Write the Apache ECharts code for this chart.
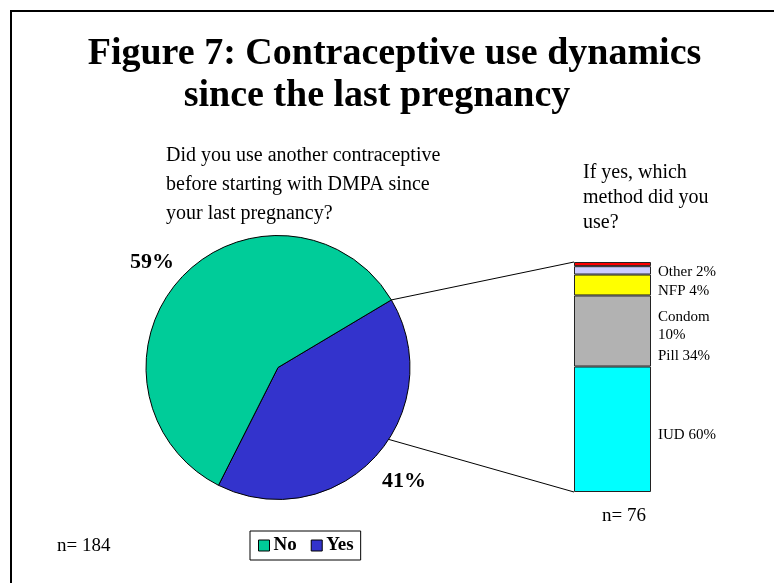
<!DOCTYPE html>
<html>
<head>
<meta charset="utf-8">
<title>Figure 7: Contraceptive use dynamics since the last pregnancy</title>
<script src="https://cdn.jsdelivr.net/npm/echarts@6/dist/echarts.min.js"></script>
<style>
  html, body { margin: 0; padding: 0; background: #fff; }
  #chart { width: 774px; height: 583px; }
</style>
</head>
<body>
<div id="chart"></div>
<script>
// Q1: did the woman use another method before DMPA?
const answerNames = ['Yes', 'No'];
const answerShares = [41, 59];
const answerColors = ['#3333CC', '#00CC99'];
const legendOrder = ['No', 'Yes'];
const answerSample = 184;

// Q2: which method, among those answering yes
const methodNames = ['IUD', 'Pill', 'Condom', 'NFP', 'Other'];
const methodShares = [60, 34, 10, 4, 2];
const methodColors = ['#00FFFF', '#B2B2B2', '#FFFF00', '#CCCCFF', '#FF0000'];
const methodSample = 76;

const SERIF = "'Liberation Serif', 'Times New Roman', serif";

// layout of the pie and the breakdown column
const PIE_CENTER = [278, 367.5];
const PIE_RADIUS = 132;
const PIE_START = 30.8;          // degrees; the "Yes" slice begins here
const PIE_LABEL_RADIUS = 167;    // distance of the percentage labels from the centre
const PIE_LABEL_TURN = 2;        // small counter-clockwise turn of the labels
const PIE_LABEL_DROP = 4;        // vertical nudge so the digits sit centred
const LOWER_LINK_ANGLE = -33;    // where the lower connector meets the pie
const COL = { left: 574, top: 262, width: 77, height: 230 };

// label nudges for the stacked column (keep labels readable)
const methodLabelDy = [6, 25, 41, 21, 8];

const methodTotal = methodShares.reduce((a, b) => a + b, 0);
const answerTotal = answerShares.reduce((a, b) => a + b, 0);

function ptOnPie(deg, r) {
  const a = deg * Math.PI / 180;
  return [PIE_CENTER[0] + r * Math.cos(a), PIE_CENTER[1] - r * Math.sin(a)];
}

// middle angle of each slice, going clockwise from PIE_START
function sliceMidAngle(idx) {
  let before = 0;
  for (let i = 0; i < idx; i++) before += answerShares[i];
  return PIE_START - 360 * (before + answerShares[idx] / 2) / answerTotal;
}

const chart = echarts.init(document.getElementById('chart'), null, { renderer: 'canvas' });

const pieSeries = {
  type: 'pie',
  center: PIE_CENTER,
  radius: PIE_RADIUS,
  startAngle: PIE_START,
  clockwise: true,
  animation: false,
  silent: true,
  avoidLabelOverlap: false,
  itemStyle: { borderColor: '#000', borderWidth: 1 },
  label: {
    show: true,
    position: 'outside',
    formatter: p => p.value + '%',
    fontFamily: SERIF,
    fontWeight: 'bold',
    fontSize: 22,
    color: '#000'
  },
  labelLine: { show: false },
  labelLayout: p => {
    const pt = ptOnPie(sliceMidAngle(p.dataIndex) + PIE_LABEL_TURN, PIE_LABEL_RADIUS);
    return { x: pt[0], y: pt[1] + PIE_LABEL_DROP, align: 'center', verticalAlign: 'middle' };
  },
  data: answerNames.map((n, i) => ({ name: n, value: answerShares[i], itemStyle: { color: answerColors[i] } }))
};

const barSeries = methodNames.map((n, i) => ({
  type: 'bar',
  name: n,
  stack: 'methods',
  barWidth: '100%',
  animation: false,
  silent: true,
  itemStyle: { color: methodColors[i], borderColor: '#222', borderWidth: 1 },
  label: {
    show: true,
    position: 'right',
    distance: 7,
    offset: [0, methodLabelDy[i]],
    formatter: p => p.seriesName + (p.seriesName === 'Condom' ? '\n' : ' ') + p.value + '%',
    fontFamily: SERIF,
    fontSize: 15,
    lineHeight: 18,
    color: '#000'
  },
  data: [methodShares[i]]
}));

const option = {
  backgroundColor: '#fff',
  animation: false,
  legend: {
    data: legendOrder,
    left: 250,
    top: 531,
    orient: 'horizontal',
    padding: [5, 7, 5, 8],
    borderColor: '#000',
    borderWidth: 1,
    itemWidth: 11,
    itemHeight: 11,
    itemGap: 14,
    icon: 'rect',
    selectedMode: false,
    itemStyle: { borderColor: '#000', borderWidth: 1 },
    textStyle: { fontFamily: SERIF, fontWeight: 'bold', fontSize: 19, color: '#000', padding: [0, 0, 0, -1] }
  },
  grid: {
    left: COL.left,
    top: COL.top,
    width: COL.width,
    height: COL.height,
    containLabel: false
  },
  xAxis: { type: 'category', data: ['method'], show: false },
  yAxis: { type: 'value', min: 0, max: methodTotal, show: false },
  series: [pieSeries].concat(barSeries)
};

chart.setOption(option);

// connectors from the "Yes" slice to the breakdown column, plus texts and frame
const topLink = ptOnPie(PIE_START, PIE_RADIUS);
const lowLink = ptOnPie(LOWER_LINK_ANGLE, PIE_RADIUS);
const colTop = chart.convertToPixel({ gridIndex: 0 }, [0, methodTotal]);
const colBottom = chart.convertToPixel({ gridIndex: 0 }, [0, 0]);
const colLeft = COL.left;

chart.setOption({
  graphic: [
    { type: 'rect', silent: true, z: 100,
      shape: { x: 11, y: 11, width: 1000, height: 1000 },
      style: { fill: 'none', stroke: '#000', lineWidth: 2 } },
    { type: 'line', silent: true, z: 1,
      shape: { x1: topLink[0], y1: topLink[1], x2: colLeft, y2: colTop[1] },
      style: { stroke: '#000', lineWidth: 1 } },
    { type: 'line', silent: true, z: 1,
      shape: { x1: lowLink[0], y1: lowLink[1], x2: colLeft, y2: colBottom[1] },
      style: { stroke: '#000', lineWidth: 1 } },
    { type: 'text', silent: true,
      style: { text: 'Figure 7: Contraceptive use dynamics', x: 394.5, y: 54,
        textAlign: 'center', textVerticalAlign: 'middle',
        font: 'bold 38px ' + SERIF, fill: '#000' } },
    { type: 'text', silent: true,
      style: { text: 'since the last pregnancy', x: 377, y: 96,
        textAlign: 'center', textVerticalAlign: 'middle',
        font: 'bold 38px ' + SERIF, fill: '#000' } },
    { type: 'text', silent: true,
      style: { text: 'Did you use another contraceptive\nbefore starting with DMPA since\nyour last pregnancy?',
        x: 166, y: 141, textAlign: 'left', textVerticalAlign: 'top',
        font: '20px ' + SERIF, lineHeight: 29, fill: '#000' } },
    { type: 'text', silent: true,
      style: { text: 'If yes, which\nmethod did you\nuse?',
        x: 583, y: 160, textAlign: 'left', textVerticalAlign: 'top',
        font: '20px ' + SERIF, lineHeight: 25, fill: '#000' } },
    { type: 'text', silent: true,
      style: { text: 'n= ' + methodSample, x: 624, y: 516,
        textAlign: 'center', textVerticalAlign: 'middle',
        font: '19px ' + SERIF, fill: '#000' } },
    { type: 'text', silent: true,
      style: { text: 'n= ' + answerSample, x: 57, y: 546,
        textAlign: 'left', textVerticalAlign: 'middle',
        font: '19px ' + SERIF, fill: '#000' } }
  ]
});
</script>
</body>
</html>
